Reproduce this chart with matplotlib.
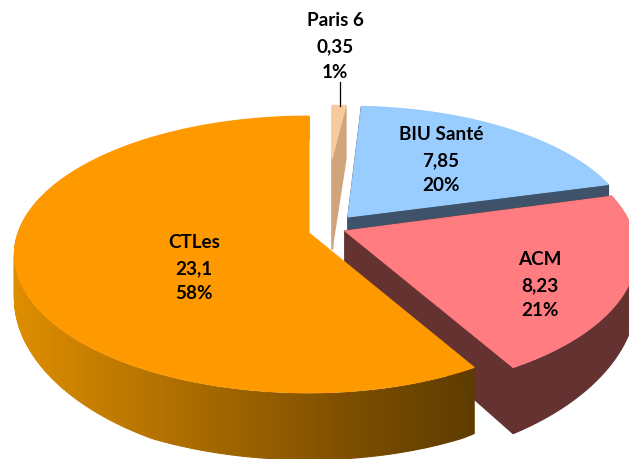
# -*- coding: utf-8 -*-
import numpy as np
import matplotlib
matplotlib.use("Agg")
import matplotlib.pyplot as plt
from matplotlib.patches import Polygon

plt.rcParams['font.family'] = ['Lato', 'DejaVu Sans']

names = ["Paris 6", "BIU Santé", "ACM", "CTLes"]
values = [0.35, 7.85, 8.23, 23.1]
value_labels = ["0,35", "7,85", "8,23", "23,1"]
top_colors = ["#F8CB9C", "#99CCFF", "#FF7C80", "#FF9900"]
side_colors = ["#D0A57C", "#3E5369", "#653232", None]

# where each exploded slice sits, in pixels: apex x, apex y, x scale, y scale
apex = [(332, 160), (348, 218), (345, 232), (309, 234)]
scale_x = [290, 281, 288, 291]
scale_y = [62, 128, 137, 135]
wall_mult = [2.2, 1, 1, 1]
apex_depth = [90, 54, 54, 54]
label_pos = [(335, 21), (441, 135), (540, 260), (194, 243)]
persp = 0.155
line_gap = 25.5


def project(i, ang):
    # clockwise angle from top, on a disc seen in perspective
    u = np.sin(ang)
    v = np.cos(ang)
    w = 1 + persp * v
    sx = scale_x[i]
    if i == 3:
        # the big slice is a bit wider on the left than on the right
        sx = np.where(u > 0, 283, 291)
    return apex[i][0] + sx * u / w, apex[i][1] - scale_y[i] * v / w


def depth(i, ang):
    w = 1 + persp * np.cos(ang)
    return np.minimum(67, wall_mult[i] * 40 / w ** 3.5)


def draw_slice(ax, i, a0, a1):
    ang = np.linspace(a0, a1, 300)
    x, y = project(i, ang)
    d = depth(i, ang)
    ax0, ay0 = apex[i]

    # outer wall, pulled in a pixel so it does not rim the top face
    if i == 3:
        # orange wall darkens from left to right
        shade_x = [0, 340, 472]
        r = np.interp(x, shade_x, [0xE2, 0x80, 0x5E])
        g = np.interp(x, shade_x, [0x90, 0x50, 0x3C])
        for k in range(len(x) - 1):
            c = (r[k] / 255, g[k] / 255, 0)
            ax.add_patch(Polygon([(x[k], y[k] + 1), (x[k + 1], y[k + 1] + 1),
                                  (x[k + 1], y[k + 1] + d[k + 1]), (x[k], y[k] + d[k])],
                                 closed=True, fc=c, ec=c, lw=0.8))
    elif i != 0:
        pts = list(zip(x, y + 1)) + list(zip(x[::-1], (y + d)[::-1]))
        ax.add_patch(Polygon(pts, closed=True, fc=side_colors[i], ec=side_colors[i], lw=1))

    # radial faces, over the wall to hide the seam
    if i != 3:
        for k in (0, -1):
            ax.add_patch(Polygon([(ax0, ay0), (x[k], y[k]), (x[k], y[k] + d[k]), (ax0, ay0 + apex_depth[i])],
                                 closed=True, fc=side_colors[i], ec=side_colors[i], lw=1))

    # top face
    pts = [(ax0, ay0)] + list(zip(x, y))
    ax.add_patch(Polygon(pts, closed=True, fc=top_colors[i], ec=top_colors[i], lw=0.8))


fig = plt.figure(figsize=(6.29, 4.60), dpi=100)
ax = fig.add_axes([0, 0, 1, 1])
ax.set_xlim(0, 629)
ax.set_ylim(460, 0)
ax.axis('off')

total = sum(values)
edges = np.concatenate([[0], np.cumsum(values)]) / total * 2 * np.pi

# back slices first so the front ones cover them
for i in [1, 0, 2, 3]:
    draw_slice(ax, i, edges[i], edges[i + 1])

ax.plot([340, 340], [83, 107], color='black', lw=0.9)

for i, name in enumerate(names):
    pct = "%d%%" % round(values[i] / total * 100)
    lx, ly = label_pos[i]
    for j, s in enumerate([name, value_labels[i], pct]):
        ax.text(lx, ly + j * line_gap, s, ha='center', va='center', fontsize=13.6,
                fontweight='bold', color='black')

fig.savefig("out.png", dpi=100)
